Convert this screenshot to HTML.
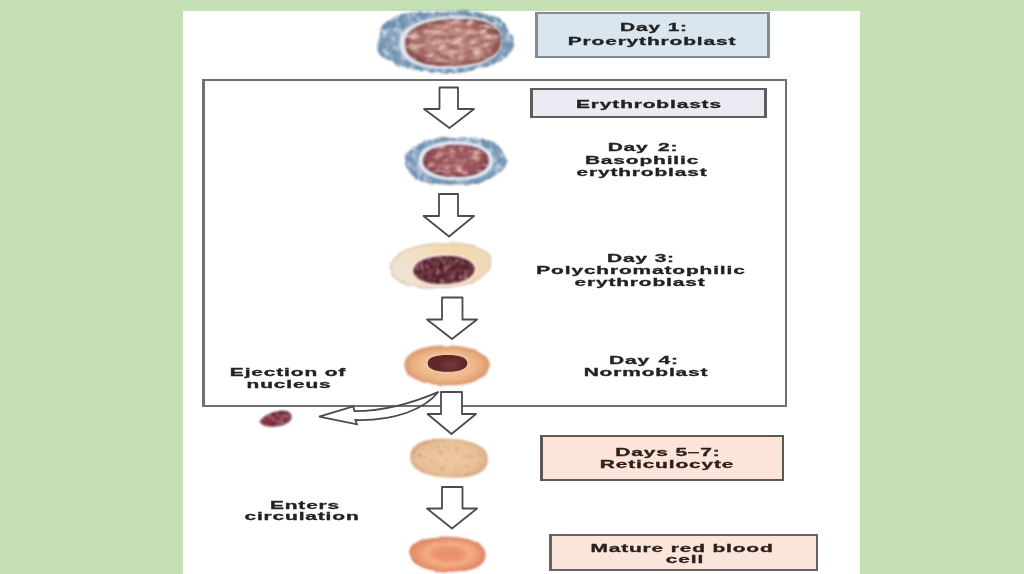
<!DOCTYPE html>
<html><head><meta charset="utf-8">
<style>
html,body{margin:0;padding:0;}
body{width:1024px;height:574px;overflow:hidden;background:#c5e0b4;position:relative;font-family:"Liberation Sans",sans-serif;}
#panel{position:absolute;left:183px;top:11px;width:677px;height:563px;background:#fff;}
.box{position:absolute;box-sizing:border-box;}
.t{position:absolute;width:400px;text-align:center;font-weight:bold;font-size:11px;line-height:12px;color:#222;white-space:nowrap;transform:scaleX(1.9);transform-origin:50% 0;letter-spacing:0.45px;-webkit-text-stroke:0.3px #222;filter:blur(0.35px);}
svg{position:absolute;left:0;top:0;}
</style></head><body>
<div id="panel"></div>

<!-- big outer rectangle -->
<div class="box" style="left:202px;top:79px;width:585px;height:328px;border:2px solid #707070;border-left-width:3px;"></div>

<!-- label boxes -->
<div class="box" style="left:535px;top:12px;width:235px;height:46px;border:2px solid #848c92;border-left-width:3px;border-right-width:3px;background:#d9e5ef;"></div>
<div class="box" style="left:530px;top:88px;width:237px;height:30px;border:2px solid #5e5e5e;border-left-width:3px;border-right-width:3px;background:#ecebf3;"></div>
<div class="box" style="left:540px;top:435px;width:244px;height:46px;border:2px solid #5e5855;border-left-width:3px;background:#fce4d8;"></div>
<div class="box" style="left:549px;top:534px;width:269px;height:37px;border:2px solid #6a625e;border-left-width:3px;background:#fbe4da;"></div>

<!--CELLS-->
<svg width="1024" height="574" viewBox="0 0 1024 574">
<defs>
    <filter color-interpolation-filters="sRGB" id="rough" x="-20%" y="-20%" width="140%" height="140%">
      <feTurbulence type="fractalNoise" baseFrequency="0.06" numOctaves="2" seed="4" result="d"/>
      <feDisplacementMap in="SourceGraphic" in2="d" scale="3" xChannelSelector="R" yChannelSelector="G" result="g"/>
      <feGaussianBlur in="g" stdDeviation="0.8"/>
    </filter>
    <filter color-interpolation-filters="sRGB" id="texB" x="-20%" y="-20%" width="140%" height="140%">
      <feTurbulence type="fractalNoise" baseFrequency="0.17 0.14" numOctaves="3" seed="7" result="n"/>
      <feDisplacementMap in="SourceGraphic" in2="n" scale="4" xChannelSelector="R" yChannelSelector="G" result="g"/>
      <feColorMatrix in="n" type="matrix" values="0 0 0 0 0.84  0 0 0 0 0.89  0 0 0 0 0.93  3.0 0 0 0 -1.45" result="w"/>
      <feComposite in="w" in2="g" operator="in" result="wi"/>
      <feColorMatrix in="n" type="matrix" values="0 0 0 0 0.42  0 0 0 0 0.54  0 0 0 0 0.68  -3.0 0 0 0 1.45" result="k"/>
      <feComposite in="k" in2="g" operator="in" result="ki"/>
      <feMerge result="m"><feMergeNode in="g"/><feMergeNode in="wi"/><feMergeNode in="ki"/></feMerge>
      <feGaussianBlur in="m" stdDeviation="0.9"/>
    </filter>
    <filter color-interpolation-filters="sRGB" id="texN" x="-20%" y="-20%" width="140%" height="140%">
      <feTurbulence type="fractalNoise" baseFrequency="0.11 0.2" numOctaves="3" seed="11" result="n"/>
      <feColorMatrix in="n" type="matrix" values="0 0 0 0 0.92  0 0 0 0 0.78  0 0 0 0 0.74  3.0 0 0 0 -1.4" result="w"/>
      <feComposite in="w" in2="SourceGraphic" operator="in" result="wi"/>
      <feColorMatrix in="n" type="matrix" values="0 0 0 0 0.58  0 0 0 0 0.33  0 0 0 0 0.34  -3.0 0 0 0 1.4" result="k"/>
      <feComposite in="k" in2="SourceGraphic" operator="in" result="ki"/>
      <feMerge result="m"><feMergeNode in="SourceGraphic"/><feMergeNode in="wi"/><feMergeNode in="ki"/></feMerge>
      <feGaussianBlur in="m" stdDeviation="0.9"/>
    </filter>
    <filter color-interpolation-filters="sRGB" id="texD" x="-20%" y="-20%" width="140%" height="140%">
      <feTurbulence type="fractalNoise" baseFrequency="0.25 0.2" numOctaves="3" seed="21" result="n"/>
      <feColorMatrix in="n" type="matrix" values="0 0 0 0 0.66  0 0 0 0 0.44  0 0 0 0 0.5  3.2 0 0 0 -1.5" result="w"/>
      <feComposite in="w" in2="SourceGraphic" operator="in" result="wi"/>
      <feColorMatrix in="n" type="matrix" values="0 0 0 0 0.25  0 0 0 0 0.08  0 0 0 0 0.12  -3.0 0 0 0 1.4" result="k"/>
      <feComposite in="k" in2="SourceGraphic" operator="in" result="ki"/>
      <feMerge result="m"><feMergeNode in="SourceGraphic"/><feMergeNode in="wi"/><feMergeNode in="ki"/></feMerge>
      <feGaussianBlur in="m" stdDeviation="0.8"/>
    </filter>
    <filter color-interpolation-filters="sRGB" id="texS" x="-20%" y="-20%" width="140%" height="140%">
      <feTurbulence type="fractalNoise" baseFrequency="0.22" numOctaves="2" seed="5" result="n"/>
      <feColorMatrix in="n" type="matrix" values="0 0 0 0 0.66  0 0 0 0 0.5  0 0 0 0 0.38  -4 0 0 0 1.45" result="k"/>
      <feComposite in="k" in2="SourceGraphic" operator="in" result="ki0"/>
      <feColorMatrix in="n" type="matrix" values="0 0 0 0 0.97  0 0 0 0 0.85  0 0 0 0 0.72  3 0 0 0 -1.6" result="w"/>
      <feComposite in="w" in2="SourceGraphic" operator="in" result="wi"/>
      <feMerge result="ki"><feMergeNode in="wi"/><feMergeNode in="ki0"/></feMerge>
      <feComposite in="k" in2="SourceGraphic" operator="in" result="ki"/>
      <feMerge result="m"><feMergeNode in="SourceGraphic"/><feMergeNode in="ki"/></feMerge>
      <feGaussianBlur in="m" stdDeviation="0.9"/>
    </filter>
    <filter color-interpolation-filters="sRGB" id="b05"><feGaussianBlur stdDeviation="0.5"/></filter>
    <filter color-interpolation-filters="sRGB" id="b1" x="-20%" y="-20%" width="140%" height="140%"><feGaussianBlur stdDeviation="1"/></filter>
    <filter color-interpolation-filters="sRGB" id="b2" x="-30%" y="-30%" width="160%" height="160%"><feGaussianBlur stdDeviation="2"/></filter>
    <filter color-interpolation-filters="sRGB" id="b3" x="-30%" y="-30%" width="160%" height="160%"><feGaussianBlur stdDeviation="3"/></filter>
    <radialGradient id="cytB" cx="50%" cy="50%" r="50%">
      <stop offset="0" stop-color="#b4c8d8"/><stop offset="0.65" stop-color="#9ab2c8"/><stop offset="0.88" stop-color="#7e9cb8"/><stop offset="1" stop-color="#7090ac"/>
    </radialGradient>
    <radialGradient id="nuc1" cx="50%" cy="50%" r="50%">
      <stop offset="0" stop-color="#bf8a80"/><stop offset="0.8" stop-color="#b07870"/><stop offset="1" stop-color="#7a4640"/>
    </radialGradient>
    <radialGradient id="nuc2" cx="50%" cy="50%" r="50%">
      <stop offset="0" stop-color="#a86068"/><stop offset="0.8" stop-color="#964e58"/><stop offset="1" stop-color="#6a3040"/>
    </radialGradient>
    <linearGradient id="cyt3l" x1="0" y1="0.6" x2="1" y2="0.3">
      <stop offset="0" stop-color="#eee4d6"/><stop offset="0.35" stop-color="#f0e0c4"/><stop offset="0.7" stop-color="#f2d8aa"/><stop offset="1" stop-color="#eedcbc"/>
    </linearGradient>
    <radialGradient id="cyt3" cx="50%" cy="50%" r="50%">
      <stop offset="0" stop-color="#f6e2b8"/><stop offset="0.7" stop-color="#f2dcb2"/><stop offset="0.92" stop-color="#ead2b6"/><stop offset="1" stop-color="#dcc4b0"/>
    </radialGradient>
    <radialGradient id="cyt4" cx="50%" cy="50%" r="50%">
      <stop offset="0" stop-color="#ecb88e"/><stop offset="0.6" stop-color="#eebc90"/><stop offset="0.85" stop-color="#e9ac7e"/><stop offset="1" stop-color="#dc9c6e"/>
    </radialGradient>
    <radialGradient id="cyt5" cx="50%" cy="50%" r="50%">
      <stop offset="0" stop-color="#eec8a0"/><stop offset="0.85" stop-color="#e8c096"/><stop offset="1" stop-color="#d8aa80"/>
    </radialGradient>
    <radialGradient id="cyt6" cx="50%" cy="50%" r="50%">
      <stop offset="0" stop-color="#e88c68"/><stop offset="0.4" stop-color="#ec9670"/><stop offset="0.62" stop-color="#f4ae88"/><stop offset="0.8" stop-color="#ee9c74"/><stop offset="1" stop-color="#e08a64"/>
    </radialGradient>
  </defs>
<g>
<path d="M513.9 41.7 L514.2 45.5 L513.3 48.5 L511.5 51.3 L509.2 53.8 L506.7 56.1 L504.3 58.4 L501.7 60.5 L498.5 62.5 L494.7 64.2 L490.4 65.7 L485.7 66.9 L481.0 68.0 L476.3 69.3 L471.5 70.6 L466.2 71.9 L460.2 72.8 L453.4 73.2 L445.0 73.1 L436.8 72.5 L430.4 71.7 L424.5 70.9 L418.9 70.2 L413.5 69.4 L408.3 68.5 L403.6 67.3 L399.4 65.8 L395.7 64.1 L392.1 62.3 L388.5 60.5 L384.9 58.6 L381.5 56.5 L379.0 54.1 L377.5 51.4 L377.3 48.5 L378.0 45.4 L378.9 41.7 L379.6 36.8 L380.0 33.6 L380.2 30.7 L380.8 28.0 L382.0 25.5 L384.1 23.4 L386.7 21.5 L389.6 19.7 L392.6 18.0 L395.7 16.3 L399.3 14.8 L403.6 13.6 L408.7 12.8 L414.4 12.5 L420.6 12.5 L427.1 12.5 L434.3 12.3 L445.0 12.0 L456.0 11.6 L463.6 11.3 L470.2 11.5 L476.0 12.1 L481.1 13.0 L485.7 14.1 L489.9 15.3 L494.0 16.5 L497.9 17.8 L501.1 19.4 L503.5 21.4 L505.1 23.6 L506.2 26.0 L507.3 28.4 L508.8 30.8 L510.7 33.5 L512.6 36.7 Z" fill="url(#cytB)" filter="url(#texB)"/>
<path d="M501.4 39.4 L501.4 42.7 L501.1 45.4 L500.4 47.8 L499.4 50.1 L498.1 52.3 L496.4 54.4 L494.5 56.3 L492.3 58.1 L489.7 59.8 L486.9 61.3 L483.8 62.7 L480.4 64.0 L476.8 65.1 L472.9 66.0 L468.7 66.9 L464.1 67.5 L459.1 68.0 L452.9 68.5 L446.4 68.7 L441.2 68.7 L436.4 68.6 L432.0 68.2 L427.8 67.6 L423.9 66.9 L420.3 66.0 L417.0 65.0 L413.9 63.7 L411.1 62.3 L408.5 60.8 L406.3 59.1 L404.4 57.2 L402.8 55.2 L401.5 53.0 L400.6 50.7 L399.9 48.0 L399.6 44.7 L399.6 41.5 L399.9 38.9 L400.7 36.6 L401.7 34.4 L403.1 32.3 L404.8 30.3 L406.8 28.4 L409.2 26.7 L411.8 25.1 L414.8 23.6 L418.0 22.2 L421.5 21.0 L425.3 19.9 L429.4 18.9 L433.8 18.1 L438.5 17.5 L443.7 17.0 L450.2 16.5 L456.4 16.3 L461.4 16.3 L466.0 16.4 L470.3 16.8 L474.3 17.3 L478.0 18.0 L481.5 18.9 L484.7 19.9 L487.7 21.1 L490.4 22.4 L492.8 23.9 L494.9 25.6 L496.8 27.4 L498.3 29.3 L499.6 31.4 L500.5 33.7 L501.1 36.2 Z" fill="#e0e4ee" filter="url(#b1)"/>
<path d="M501.0 39.4 L501.0 42.4 L500.7 44.8 L500.0 47.0 L499.1 49.1 L497.8 51.1 L496.2 53.0 L494.3 54.7 L492.2 56.4 L489.7 57.9 L487.0 59.3 L484.0 60.6 L480.8 61.7 L477.3 62.7 L473.5 63.6 L469.5 64.4 L465.1 65.0 L460.4 65.5 L454.4 65.9 L448.3 66.1 L443.5 66.1 L439.1 66.0 L435.1 65.6 L431.2 65.1 L427.6 64.5 L424.3 63.7 L421.2 62.7 L418.3 61.6 L415.8 60.4 L413.4 59.0 L411.4 57.4 L409.6 55.7 L408.1 53.9 L407.0 51.9 L406.1 49.8 L405.5 47.4 L405.2 44.4 L405.2 41.5 L405.5 39.2 L406.2 37.1 L407.2 35.1 L408.4 33.3 L410.0 31.5 L411.9 29.8 L414.1 28.3 L416.5 26.8 L419.2 25.5 L422.2 24.3 L425.5 23.1 L429.0 22.2 L432.7 21.3 L436.8 20.6 L441.1 20.0 L445.9 19.5 L451.9 19.1 L457.9 18.9 L462.7 18.9 L467.1 19.0 L471.2 19.3 L475.0 19.8 L478.6 20.4 L482.0 21.1 L485.1 22.0 L487.9 23.1 L490.5 24.3 L492.8 25.6 L494.8 27.1 L496.6 28.7 L498.1 30.4 L499.3 32.3 L500.1 34.3 L500.7 36.5 Z" fill="url(#nuc1)" filter="url(#texN)"/>
</g>
<g>
<path d="M505.9 158.9 L506.2 161.7 L506.0 164.2 L505.2 166.4 L503.8 168.5 L502.0 170.4 L499.7 172.2 L497.3 173.9 L494.8 175.4 L492.1 176.9 L489.4 178.4 L486.5 179.9 L483.4 181.2 L479.8 182.4 L475.9 183.4 L471.5 184.2 L466.9 184.6 L461.9 184.8 L456.1 184.8 L450.5 184.7 L445.7 184.6 L441.3 184.3 L437.0 184.0 L432.8 183.7 L428.7 183.2 L424.9 182.4 L421.4 181.4 L418.3 180.2 L415.7 178.7 L413.5 177.1 L411.8 175.3 L410.3 173.4 L409.0 171.5 L407.7 169.5 L406.6 167.5 L405.5 165.2 L404.7 162.5 L404.4 159.7 L404.6 157.3 L405.4 155.1 L406.8 153.0 L408.6 151.1 L410.9 149.4 L413.3 147.7 L415.9 146.2 L418.5 144.7 L421.2 143.2 L424.1 141.8 L427.3 140.4 L430.8 139.2 L434.7 138.3 L439.1 137.5 L443.7 137.1 L448.7 136.9 L454.5 136.9 L460.1 136.9 L464.9 137.1 L469.3 137.4 L473.6 137.6 L477.8 138.0 L481.9 138.5 L485.7 139.2 L489.2 140.2 L492.3 141.4 L494.9 142.9 L497.1 144.5 L498.8 146.3 L500.3 148.1 L501.6 150.0 L502.9 152.0 L504.0 154.0 L505.1 156.2 Z" fill="url(#cytB)" filter="url(#texB)"/>
<path d="M493.0 160.7 L492.9 162.8 L492.5 164.7 L491.9 166.4 L491.0 168.1 L489.8 169.6 L488.5 171.1 L486.9 172.5 L485.0 173.7 L483.0 174.9 L480.8 176.0 L478.3 177.0 L475.7 177.8 L472.9 178.5 L470.0 179.1 L466.8 179.6 L463.5 179.9 L460.0 180.1 L456.0 180.2 L451.9 180.1 L448.4 179.9 L445.0 179.6 L441.9 179.1 L438.9 178.5 L436.0 177.8 L433.4 177.0 L430.9 176.0 L428.6 174.9 L426.6 173.7 L424.7 172.5 L423.1 171.1 L421.7 169.6 L420.6 168.1 L419.7 166.4 L419.0 164.7 L418.6 162.8 L418.5 160.7 L418.6 158.6 L419.0 156.7 L419.7 155.0 L420.6 153.3 L421.7 151.8 L423.1 150.3 L424.7 148.9 L426.6 147.7 L428.6 146.5 L430.9 145.4 L433.4 144.4 L436.0 143.6 L438.9 142.9 L441.9 142.3 L445.0 141.8 L448.4 141.5 L451.9 141.3 L456.0 141.2 L460.0 141.3 L463.5 141.5 L466.8 141.8 L470.0 142.3 L472.9 142.9 L475.7 143.6 L478.3 144.4 L480.8 145.4 L483.0 146.5 L485.0 147.7 L486.9 148.9 L488.5 150.3 L489.8 151.8 L491.0 153.3 L491.9 155.0 L492.5 156.7 L492.9 158.6 Z" fill="#e4eaf2" filter="url(#b1)"/>
<path d="M488.8 160.7 L488.7 162.5 L488.3 164.0 L487.8 165.4 L487.0 166.8 L486.0 168.1 L484.8 169.3 L483.4 170.5 L481.7 171.5 L479.9 172.5 L477.9 173.4 L475.8 174.2 L473.5 174.9 L471.0 175.5 L468.4 176.0 L465.6 176.4 L462.7 176.7 L459.6 176.8 L456.0 176.9 L452.4 176.8 L449.3 176.7 L446.3 176.4 L443.6 176.0 L440.9 175.5 L438.4 174.9 L436.1 174.2 L433.9 173.4 L431.9 172.5 L430.1 171.5 L428.5 170.5 L427.0 169.3 L425.8 168.1 L424.8 166.8 L424.0 165.4 L423.5 164.0 L423.1 162.5 L423.0 160.7 L423.1 159.0 L423.5 157.4 L424.0 156.0 L424.8 154.7 L425.8 153.4 L427.0 152.2 L428.5 151.0 L430.1 150.0 L431.9 149.0 L433.9 148.1 L436.1 147.4 L438.4 146.7 L440.9 146.1 L443.6 145.6 L446.3 145.2 L449.3 144.9 L452.4 144.8 L456.0 144.7 L459.6 144.8 L462.7 144.9 L465.6 145.2 L468.4 145.6 L471.0 146.1 L473.5 146.7 L475.8 147.4 L477.9 148.1 L479.9 149.0 L481.7 150.0 L483.4 151.0 L484.8 152.2 L486.0 153.4 L487.0 154.7 L487.8 156.0 L488.3 157.4 L488.7 159.0 Z" fill="url(#nuc2)" filter="url(#texN)"/>
</g>
<g>
<path d="M490.4 262.0 L490.4 264.5 L490.0 266.6 L489.3 268.6 L488.2 270.6 L486.9 272.5 L485.2 274.3 L483.1 276.0 L480.8 277.6 L478.2 279.1 L475.3 280.6 L472.1 281.9 L468.7 283.1 L465.0 284.2 L461.1 285.1 L457.0 285.9 L452.6 286.6 L447.9 287.2 L442.5 287.6 L437.2 287.9 L432.5 288.0 L428.0 288.0 L423.8 287.7 L419.8 287.3 L416.1 286.8 L412.5 286.1 L409.2 285.2 L406.1 284.2 L403.3 283.0 L400.7 281.7 L398.5 280.3 L396.6 278.8 L394.9 277.1 L393.6 275.3 L392.6 273.4 L392.0 271.4 L391.6 269.0 L391.6 266.6 L392.0 264.4 L392.7 262.4 L393.8 260.5 L395.1 258.6 L396.9 256.8 L398.9 255.1 L401.2 253.5 L403.8 252.0 L406.8 250.6 L409.9 249.3 L413.4 248.1 L417.0 247.0 L420.9 246.1 L425.1 245.2 L429.4 244.6 L434.1 244.0 L439.5 243.6 L444.8 243.3 L449.5 243.2 L454.0 243.2 L458.2 243.5 L462.2 243.9 L465.9 244.4 L469.5 245.1 L472.8 246.0 L475.9 247.0 L478.7 248.1 L481.3 249.4 L483.5 250.8 L485.5 252.3 L487.1 254.0 L488.4 255.7 L489.4 257.6 L490.0 259.7 Z" fill="url(#cyt3l)" stroke="#dcc2aa" stroke-width="1.5" filter="url(#rough)"/>
<path d="M477.5 268.8 L477.4 270.4 L477.1 272.0 L476.6 273.4 L475.8 274.8 L474.7 276.2 L473.5 277.5 L472.0 278.7 L470.4 279.9 L468.5 281.0 L466.4 282.0 L464.2 282.9 L461.8 283.8 L459.3 284.5 L456.6 285.1 L453.8 285.6 L450.9 286.0 L447.9 286.3 L444.6 286.5 L441.2 286.5 L438.2 286.5 L435.2 286.3 L432.3 286.0 L429.6 285.5 L426.9 285.0 L424.5 284.3 L422.1 283.6 L420.0 282.7 L418.0 281.7 L416.2 280.7 L414.7 279.6 L413.3 278.3 L412.2 277.1 L411.3 275.7 L410.6 274.3 L410.2 272.8 L410.0 271.2 L410.1 269.6 L410.4 268.1 L411.0 266.6 L411.8 265.2 L412.8 263.8 L414.1 262.5 L415.6 261.3 L417.3 260.1 L419.2 259.0 L421.2 258.0 L423.5 257.1 L425.9 256.2 L428.5 255.5 L431.2 254.9 L434.1 254.4 L437.0 254.0 L440.1 253.7 L443.4 253.5 L446.7 253.5 L449.8 253.5 L452.7 253.7 L455.5 254.0 L458.2 254.5 L460.8 255.0 L463.2 255.7 L465.5 256.4 L467.7 257.3 L469.6 258.3 L471.3 259.3 L472.9 260.5 L474.2 261.7 L475.3 263.0 L476.2 264.3 L476.9 265.7 L477.3 267.2 Z" fill="#f8e2d6" filter="url(#b1)"/>
<path d="M474.5 268.9 L474.4 270.3 L474.1 271.6 L473.6 272.8 L472.9 274.0 L472.0 275.2 L470.8 276.3 L469.5 277.4 L468.0 278.4 L466.3 279.3 L464.4 280.2 L462.4 280.9 L460.2 281.7 L457.9 282.3 L455.4 282.8 L452.9 283.2 L450.2 283.6 L447.5 283.8 L444.5 284.0 L441.5 284.0 L438.7 284.0 L436.1 283.8 L433.5 283.6 L431.0 283.2 L428.7 282.8 L426.5 282.2 L424.4 281.6 L422.4 280.8 L420.7 280.0 L419.1 279.1 L417.7 278.2 L416.5 277.1 L415.4 276.0 L414.6 274.9 L414.1 273.7 L413.7 272.4 L413.5 271.1 L413.6 269.7 L413.9 268.4 L414.4 267.2 L415.1 266.0 L416.0 264.8 L417.2 263.7 L418.5 262.6 L420.0 261.6 L421.7 260.7 L423.6 259.8 L425.6 259.1 L427.8 258.3 L430.1 257.7 L432.6 257.2 L435.1 256.8 L437.8 256.4 L440.5 256.2 L443.5 256.0 L446.5 256.0 L449.3 256.0 L451.9 256.2 L454.5 256.4 L457.0 256.8 L459.3 257.2 L461.5 257.8 L463.6 258.4 L465.6 259.2 L467.3 260.0 L468.9 260.9 L470.3 261.8 L471.5 262.9 L472.6 264.0 L473.4 265.1 L473.9 266.3 L474.3 267.6 Z" fill="#5c2a32" filter="url(#texD)"/>
</g>
<g>
<path d="M488.2 366.1 L488.0 368.1 L487.5 369.9 L486.8 371.6 L485.7 373.2 L484.4 374.7 L482.8 376.1 L481.0 377.4 L478.9 378.7 L476.5 379.8 L473.9 380.9 L471.2 381.8 L468.2 382.6 L465.0 383.2 L461.7 383.8 L458.2 384.2 L454.5 384.5 L450.7 384.6 L446.4 384.6 L442.1 384.5 L438.2 384.2 L434.6 383.8 L431.1 383.3 L427.8 382.6 L424.6 381.8 L421.7 380.9 L418.9 379.9 L416.4 378.8 L414.1 377.6 L412.0 376.2 L410.2 374.8 L408.7 373.4 L407.4 371.8 L406.4 370.2 L405.7 368.5 L405.3 366.7 L405.2 364.7 L405.4 362.7 L405.9 360.9 L406.6 359.2 L407.7 357.6 L409.0 356.1 L410.6 354.7 L412.4 353.4 L414.5 352.1 L416.9 351.0 L419.5 349.9 L422.2 349.0 L425.2 348.2 L428.4 347.6 L431.7 347.0 L435.2 346.6 L438.9 346.3 L442.7 346.2 L447.0 346.2 L451.3 346.3 L455.2 346.6 L458.8 347.0 L462.3 347.5 L465.6 348.2 L468.8 349.0 L471.7 349.9 L474.5 350.9 L477.0 352.0 L479.3 353.2 L481.4 354.6 L483.2 356.0 L484.7 357.4 L486.0 359.0 L487.0 360.6 L487.7 362.3 L488.1 364.1 Z" fill="url(#cyt4)" stroke="#d9966a" stroke-width="1.4" filter="url(#rough)"/>
<path d="M469.0 363.5 L468.9 364.5 L468.7 365.4 L468.3 366.3 L467.7 367.1 L467.0 367.9 L466.2 368.7 L465.2 369.4 L464.1 370.1 L462.8 370.7 L461.4 371.3 L460.0 371.8 L458.4 372.2 L456.7 372.6 L454.9 372.9 L453.1 373.2 L451.2 373.4 L449.2 373.5 L447.0 373.5 L444.8 373.5 L442.8 373.4 L440.9 373.2 L439.1 372.9 L437.3 372.6 L435.6 372.2 L434.0 371.8 L432.6 371.3 L431.2 370.7 L429.9 370.1 L428.8 369.4 L427.8 368.7 L427.0 367.9 L426.3 367.1 L425.7 366.3 L425.3 365.4 L425.1 364.5 L425.0 363.5 L425.1 362.5 L425.3 361.6 L425.7 360.7 L426.3 359.9 L427.0 359.1 L427.8 358.3 L428.8 357.6 L429.9 356.9 L431.2 356.3 L432.6 355.7 L434.0 355.2 L435.6 354.8 L437.3 354.4 L439.1 354.1 L440.9 353.8 L442.8 353.6 L444.8 353.5 L447.0 353.5 L449.2 353.5 L451.2 353.6 L453.1 353.8 L454.9 354.1 L456.7 354.4 L458.4 354.8 L460.0 355.2 L461.4 355.7 L462.8 356.3 L464.1 356.9 L465.2 357.6 L466.2 358.3 L467.0 359.1 L467.7 359.9 L468.3 360.7 L468.7 361.6 L468.9 362.5 Z" fill="#f4c8a4" filter="url(#b1)"/>
<path d="M467.3 363.2 L467.2 364.2 L467.0 365.1 L466.7 365.9 L466.3 366.6 L465.7 367.3 L465.0 367.9 L464.1 368.5 L463.2 369.1 L462.1 369.6 L461.0 370.0 L459.7 370.4 L458.3 370.8 L456.9 371.1 L455.3 371.3 L453.6 371.5 L451.8 371.7 L449.9 371.8 L447.5 371.8 L445.1 371.8 L443.2 371.7 L441.4 371.5 L439.7 371.3 L438.1 371.1 L436.7 370.8 L435.3 370.4 L434.0 370.0 L432.9 369.6 L431.8 369.1 L430.9 368.5 L430.0 367.9 L429.3 367.3 L428.7 366.6 L428.3 365.9 L428.0 365.1 L427.8 364.2 L427.7 363.2 L427.8 362.2 L428.0 361.4 L428.3 360.7 L428.7 360.0 L429.3 359.3 L430.0 358.7 L430.9 358.1 L431.8 357.6 L432.9 357.1 L434.0 356.7 L435.3 356.3 L436.7 356.0 L438.1 355.7 L439.7 355.4 L441.4 355.2 L443.2 355.1 L445.1 355.0 L447.5 355.0 L449.9 355.0 L451.8 355.1 L453.6 355.2 L455.3 355.4 L456.9 355.7 L458.3 356.0 L459.7 356.3 L461.0 356.7 L462.1 357.1 L463.2 357.6 L464.1 358.1 L465.0 358.7 L465.7 359.3 L466.3 360.0 L466.7 360.7 L467.0 361.4 L467.2 362.2 Z" fill="#5e2a28" filter="url(#b05)"/>
<ellipse cx="450" cy="365" rx="9" ry="4" fill="#7a3838" filter="url(#b2)"/>
</g>
<g>
<path d="M487.7 460.2 L487.5 462.6 L487.0 464.5 L486.3 466.3 L485.3 467.9 L484.1 469.3 L482.7 470.7 L481.1 471.9 L479.2 473.1 L477.1 474.1 L474.8 475.0 L472.3 475.7 L469.6 476.4 L466.7 476.9 L463.6 477.3 L460.3 477.6 L456.7 477.7 L452.9 477.7 L448.0 477.5 L443.1 477.2 L439.3 476.8 L435.8 476.3 L432.5 475.7 L429.5 474.9 L426.6 474.1 L424.0 473.2 L421.6 472.2 L419.4 471.0 L417.4 469.8 L415.7 468.5 L414.2 467.1 L412.9 465.6 L411.8 464.0 L411.1 462.3 L410.5 460.5 L410.3 458.6 L410.3 456.2 L410.5 453.8 L411.0 451.9 L411.7 450.1 L412.7 448.5 L413.9 447.1 L415.3 445.7 L416.9 444.5 L418.8 443.3 L420.9 442.3 L423.2 441.4 L425.7 440.7 L428.4 440.0 L431.3 439.5 L434.4 439.1 L437.7 438.8 L441.3 438.7 L445.1 438.7 L450.0 438.9 L454.9 439.2 L458.7 439.6 L462.2 440.1 L465.5 440.7 L468.5 441.5 L471.4 442.3 L474.0 443.2 L476.4 444.2 L478.6 445.4 L480.6 446.6 L482.3 447.9 L483.8 449.3 L485.1 450.8 L486.2 452.4 L486.9 454.1 L487.5 455.9 L487.7 457.8 Z" fill="url(#cyt5)" filter="url(#texS)"/>
</g>
<g>
<path d="M484.8 555.5 L484.6 557.5 L484.2 559.1 L483.5 560.6 L482.6 562.0 L481.5 563.3 L480.1 564.5 L478.5 565.6 L476.7 566.7 L474.7 567.6 L472.5 568.4 L470.1 569.1 L467.5 569.7 L464.7 570.2 L461.8 570.6 L458.6 570.9 L455.3 571.0 L451.6 571.1 L447.2 571.0 L442.8 570.8 L439.2 570.5 L435.8 570.1 L432.7 569.6 L429.8 569.0 L427.0 568.3 L424.5 567.5 L422.2 566.6 L420.0 565.7 L418.1 564.6 L416.3 563.5 L414.8 562.2 L413.6 561.0 L412.5 559.6 L411.7 558.1 L411.2 556.6 L410.9 554.9 L410.8 552.9 L411.0 550.9 L411.4 549.3 L412.1 547.8 L413.0 546.4 L414.1 545.1 L415.5 543.9 L417.1 542.8 L418.9 541.7 L420.9 540.8 L423.1 540.0 L425.5 539.3 L428.1 538.7 L430.9 538.2 L433.8 537.8 L437.0 537.5 L440.3 537.4 L444.0 537.3 L448.4 537.4 L452.8 537.6 L456.4 537.9 L459.8 538.3 L462.9 538.8 L465.8 539.4 L468.6 540.1 L471.1 540.9 L473.4 541.8 L475.6 542.7 L477.5 543.8 L479.3 544.9 L480.8 546.2 L482.0 547.4 L483.1 548.8 L483.9 550.3 L484.4 551.8 L484.7 553.5 Z" fill="url(#cyt6)" stroke="#cf7e5c" stroke-width="1.2" filter="url(#rough)"/>
</g>
<path d="M260 421.5 C264 415.5 274 411.2 283 411.2 C289 411.2 292 414 291 418 C290 423 282 426.2 272 426.2 C266 426.2 261 424.5 260 421.5 Z" fill="#84343f" stroke="#5a2030" stroke-width="0.8" filter="url(#texD)"/>
</svg>
<!--/CELLS-->
<svg width="1024" height="574" viewBox="0 0 1024 574">
  <g fill="#fff" stroke="#4c4c4c" stroke-width="1.8" stroke-linejoin="round">
    <path d="M439.5 87.5 H458 V109 H474 L449.5 128 L424 109 H439.5 Z"/>
    <path d="M439 194 H458 V216 H474 L449 236.5 L423.5 216 H439 Z"/>
    <path d="M442 297.5 H462.5 V319.5 H477 L452 339 L427 319.5 H442 Z"/>
    <path d="M441 392 H462 V414 H476 L451.5 434 L427.5 414 H441 Z"/>
    <path d="M442 487 H462.5 V508.5 H477 L452 528.5 L427 508.5 H442 Z"/>
  </g>
  <path d="M438.5 391.8 C415 402 385 411 354.5 411.2 L353.3 406.3 L319.1 416.6 L357 424.3 L355.4 420 C395 421 425 409 438.5 391.8 Z" fill="none" stroke="#4a4a4a" stroke-width="1.8" stroke-linejoin="miter"/>
</svg>

<!-- texts -->
<div class="t" style="left:454px;top:21px;">Day 1:</div>
<div class="t" style="left:452px;top:35px;">Proerythroblast</div>
<div class="t" style="left:449px;top:98px;">Erythroblasts</div>
<div class="t" style="left:442.5px;top:141px;word-spacing:1.5px;">Day 2:</div>
<div class="t" style="left:442px;top:154px;">Basophilic</div>
<div class="t" style="left:442px;top:166px;">erythroblast</div>
<div class="t" style="left:441px;top:252px;">Day 3:</div>
<div class="t" style="left:441px;top:264px;">Polychromatophilic</div>
<div class="t" style="left:440px;top:275.5px;">erythroblast</div>
<div class="t" style="left:444px;top:354px;word-spacing:1px;">Day 4:</div>
<div class="t" style="left:446px;top:366px;">Normoblast</div>
<div class="t" style="left:88px;top:366px;">Ejection of</div>
<div class="t" style="left:89px;top:378px;">nucleus</div>
<div class="t" style="left:468px;top:446px;color:#2a211c;-webkit-text-stroke-color:#2a211c;">Days 5–7:</div>
<div class="t" style="left:467px;top:458px;color:#2a211c;-webkit-text-stroke-color:#2a211c;">Reticulocyte</div>
<div class="t" style="left:482px;top:542px;color:#2a211c;-webkit-text-stroke-color:#2a211c;">Mature red blood</div>
<div class="t" style="left:485px;top:553px;color:#2a211c;-webkit-text-stroke-color:#2a211c;">cell</div>
<div class="t" style="left:105px;top:499px;">Enters</div>
<div class="t" style="left:102px;top:510px;">circulation</div>
</body></html>
